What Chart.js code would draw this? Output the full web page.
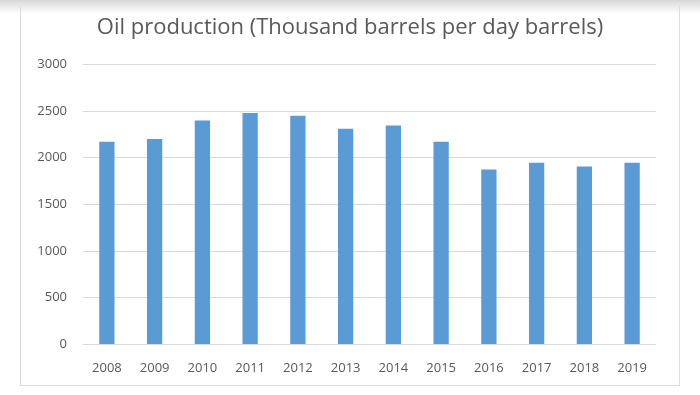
<!DOCTYPE html>
<html>
<head>
<meta charset="utf-8">
<script src="https://cdn.jsdelivr.net/npm/chart.js@4.4.0/dist/chart.umd.min.js"></script>
<style>
    html, body { margin: 0; padding: 0; background: #fff; }
    body { width: 700px; height: 395px; position: relative; overflow: hidden; }
    .shade { position: absolute; left: 0; top: 0; width: 700px; height: 14px;
             background: linear-gradient(#d8d8d8, #fff); }
    .frame { position: absolute; left: 20px; top: 6px; width: 660px; height: 380px;
             border: 1px solid #dcdcdc; border-top: none; box-sizing: border-box; }
    canvas { display: block; }
</style>
</head>
<body>
<div class="shade"></div>
<div class="frame"><canvas id="oilChart" width="658" height="379"></canvas></div>
<script>
// 연도별 원유 생산량 (천 배럴/일)
const years = ['2008', '2009', '2010', '2011', '2012', '2013', '2014', '2015', '2016', '2017', '2018', '2019'];
const production = [2170, 2200, 2400, 2480, 2450, 2310, 2345, 2170, 1875, 1945, 1905, 1945];
const yTicks = [0, 500, 1000, 1500, 2000, 2500, 3000];

const textColor = '#595959';
const fontFamily = '"Open Sans", "Noto Sans", sans-serif';

const ctx = document.getElementById('oilChart');
new Chart(ctx, {
    type: 'bar',
    data: {
        labels: years,
        datasets: [{
            label: 'Oil production',
            data: production,
            backgroundColor: '#5b9bd5',
            categoryPercentage: 1.0,
            barPercentage: 0.32
        }]
    },
    options: {
        responsive: false,
        animation: false,
        layout: { padding: { left: 12, right: 12, top: 3, bottom: 1 } },
        plugins: {
            legend: { display: false },
            tooltip: { enabled: false },
            title: {
                display: true,
                text: 'Oil production (Thousand barrels per day barrels)',
                color: textColor,
                font: { family: fontFamily, size: 22, weight: 'normal' },
                padding: { top: 6, bottom: 23 }
            }
        },
        scales: {
            x: {
                grid: { display: false },
                border: { display: false },
                ticks: { color: textColor, font: { family: fontFamily, size: 13 }, padding: 8, maxRotation: 0 }
            },
            y: {
                min: 0,
                max: 3000,
                afterBuildTicks: scale => { scale.ticks = yTicks.map(v => ({ value: v })); },
                afterFit: scale => { scale.width = 50; },
                grid: { color: '#d9d9d9', drawTicks: false },
                border: { display: false },
                ticks: {
                    color: textColor,
                    font: { family: fontFamily, size: 13 },
                    padding: 16,
                    callback: value => String(value)
                }
            },
            // 오른쪽 여백용 빈 축
            yRight: {
                position: 'right',
                min: 0,
                max: 3000,
                afterFit: scale => { scale.width = 11; },
                grid: { display: false },
                border: { display: false },
                ticks: { display: false }
            }
        }
    }
});
</script>
</body>
</html>
